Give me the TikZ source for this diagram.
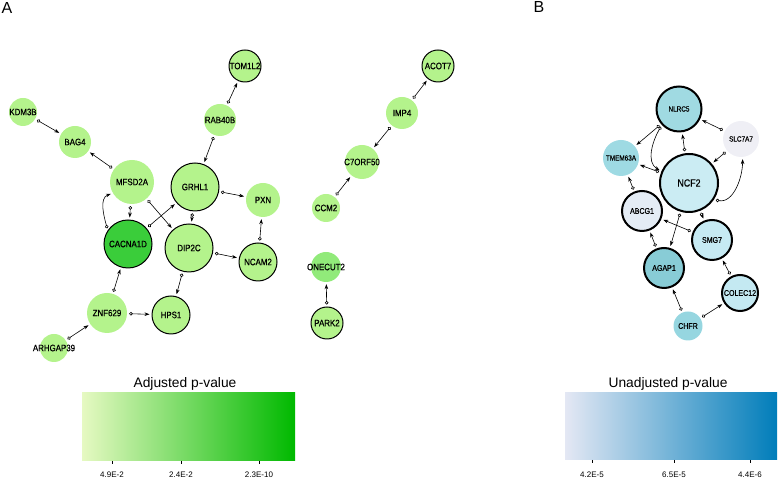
\documentclass[tikz,border=0pt]{standalone}
\usepackage{fontspec}
\setmainfont{Liberation Sans}
\newfontfamily\genefont{Liberation Sans}[FakeStretch=0.85,FakeBold=0.6]
\usetikzlibrary{arrows.meta,shapes}

% node fills
\definecolor{lgreen}{RGB}{180,243,140}
\definecolor{mgreen}{RGB}{145,234,122}
\definecolor{dgreen}{RGB}{58,205,58}
\definecolor{bnlrc}{RGB}{160,218,226}
\definecolor{btmem}{RGB}{158,218,227}
\definecolor{bncf}{RGB}{203,236,243}
\definecolor{babcg}{RGB}{228,236,245}
\definecolor{bsmg}{RGB}{198,234,243}
\definecolor{bagap}{RGB}{136,204,214}
\definecolor{bcolec}{RGB}{196,233,242}
\definecolor{bchfr}{RGB}{150,214,224}
\definecolor{bslc}{RGB}{239,239,245}
% colour bars
\definecolor{gbarlow}{RGB}{230,249,194}
\definecolor{gbarmid}{RGB}{145,245,138}
\definecolor{gbarhigh}{RGB}{0,185,0}
\definecolor{bbarlow}{RGB}{228,232,244}
\definecolor{bbarmid}{RGB}{160,222,244}
\definecolor{bbarhigh}{RGB}{0,125,186}

% label that does not widen its circle
\newcommand{\glab}[1]{\makebox[0pt]{#1}}

\begin{document}
\begin{tikzpicture}[
    x=1pt, y=1pt,
    gene/.style={circle, inner sep=0pt, text=black, font=\genefont\fontsize{9.3}{9.3}\selectfont},
    geneb/.style={gene, font=\genefont\fontsize{8.3}{8.3}\selectfont},
    genesmall/.style={gene, font=\genefont\fontsize{7.5}{7.5}\selectfont},
    ring/.style={draw=black, line width=1pt},
    ringthick/.style={draw=black, line width=2pt},
    link/.style={draw=black, line width=0.6pt,
        {Circle[open,length=3.5pt,width=3.5pt]}-{Stealth[length=5pt,width=3.6pt]},
        shorten <=2pt, shorten >=2pt},
    bartitle/.style={font=\fontsize{13.8}{13.8}\selectfont, anchor=base},
    ticklabel/.style={font=\fontsize{8}{8}\selectfont, anchor=base}
]
    \path[use as bounding box] (0,0) rectangle (778,481);

    % Panel letters
    \node[font=\fontsize{16}{16}\selectfont] (panelA) at (7,473) {A};
    \node[font=\fontsize{16}{16}\selectfont] (panelB) at (539,474) {B};

    % Network A
    \node[gene, fill=lgreen, minimum size=28pt] (kdm3b) at (23,369) {\glab{KDM3B}};
    \node[gene, fill=lgreen, minimum size=32pt] (bag4) at (75,339) {\glab{BAG4}};
    \node[gene, fill=lgreen, minimum size=44pt] (mfsd2a) at (132,299) {\glab{MFSD2A}};
    \node[gene, ring, fill=lgreen, minimum size=48pt] (grhl1) at (195,294) {\glab{GRHL1}};
    \node[gene, fill=lgreen, minimum size=32pt] (rab40b) at (220,361) {\glab{RAB40B}};
    \node[gene, ring, fill=lgreen, minimum size=32pt] (tom1l2) at (245,415) {\glab{TOM1L2}};
    \node[gene, fill=lgreen, minimum size=34pt] (pxn) at (263,281) {\glab{PXN}};
    \node[gene, ring, fill=dgreen, minimum size=48pt] (cacna1d) at (128,237) {\glab{CACNA1D}};
    \node[gene, ring, fill=lgreen, minimum size=48pt] (dip2c) at (189,233) {\glab{DIP2C}};
    \node[gene, ring, fill=lgreen, minimum size=38pt] (ncam2) at (258,219) {\glab{NCAM2}};
    \node[gene, ring, fill=lgreen, minimum size=38pt] (hps1) at (171,166) {\glab{HPS1}};
    \node[gene, fill=lgreen, minimum size=40pt] (znf629) at (107,168) {\glab{ZNF629}};
    \node[gene, fill=lgreen, minimum size=28pt] (arhgap39) at (54,133) {\glab{ARHGAP39}};
    \node[gene, ring, fill=lgreen, minimum size=32pt] (acot7) at (438,415) {\glab{ACOT7}};
    \node[gene, fill=lgreen, minimum size=32pt] (imp4) at (402,368) {\glab{IMP4}};
    \node[gene, fill=lgreen, minimum size=34pt] (c7orf50) at (362,319) {\glab{C7ORF50}};
    \node[gene, fill=lgreen, minimum size=28pt] (ccm2) at (326,273) {\glab{CCM2}};
    \node[gene, fill=mgreen, minimum size=30pt] (onecut2) at (326,214) {\glab{ONECUT2}};
    \node[gene, ring, fill=lgreen, minimum size=32pt] (park2) at (327,158) {\glab{PARK2}};

    \foreach \s/\t in {kdm3b/bag4, mfsd2a/bag4, rab40b/tom1l2, rab40b/grhl1,
        grhl1/pxn, grhl1/dip2c, mfsd2a/cacna1d, mfsd2a/dip2c, cacna1d/grhl1,
        dip2c/ncam2, dip2c/hps1, ncam2/pxn, znf629/cacna1d, znf629/hps1,
        arhgap39/znf629, imp4/acot7, imp4/c7orf50, ccm2/c7orf50, park2/onecut2}
        \draw[link] (\s) -- (\t);
    \draw[link] (cacna1d.146) to[out=105, in=200] (mfsd2a.210);

    % Network B
    \node[genesmall, ringthick, fill=bnlrc, minimum size=45pt] (nlrc5) at (679,372) {\glab{NLRC5}};
    \node[genesmall, fill=bslc, minimum size=36pt] (slc7a7) at (741,342) {\glab{SLC7A7}};
    \node[genesmall, fill=btmem, minimum size=36pt] (tmem63a) at (621,323) {\glab{TMEM63A}};
    \node[gene, ringthick, fill=bncf, minimum size=58pt, font=\genefont\fontsize{10.4}{10.4}\selectfont] (ncf2) at (689,298) {\glab{NCF2}};
    \node[geneb, ringthick, fill=babcg, minimum size=40pt] (abcg1) at (642,270) {\glab{ABCG1}};
    \node[geneb, ringthick, fill=bsmg, minimum size=40pt] (smg7) at (712,241) {\glab{SMG7}};
    \node[geneb, ringthick, fill=bagap, minimum size=40pt] (agap1) at (664,213) {\glab{AGAP1}};
    \node[geneb, ringthick, fill=bcolec, minimum size=36pt] (colec12) at (740,188) {\glab{COLEC12}};
    \node[geneb, fill=bchfr, minimum size=29pt] (chfr) at (688,155) {\glab{CHFR}};

    \foreach \s/\t in {slc7a7/nlrc5, slc7a7/ncf2, ncf2/nlrc5, nlrc5/tmem63a,
        ncf2/tmem63a, abcg1/tmem63a, ncf2/agap1, ncf2/smg7, smg7/abcg1,
        agap1/abcg1, colec12/smg7, chfr/agap1, chfr/colec12}
        \draw[link] (\s) -- (\t);
    \draw[link] (ncf2.326) to[out=-10, in=-90] (slc7a7.275);
    \draw[link] (nlrc5.223) to[out=240, in=150] (ncf2.157);

    % Colour bar A
    \node[bartitle] (titleA) at (185,93) {Adjusted p-value};
    \shade[left color=gbarlow, middle color=gbarmid, right color=gbarhigh] (82,20) rectangle (295,88);
    \foreach \x/\v in {112/4.9E-2, 181/2.4E-2, 259/2.3E-10} {
        \draw[line width=0.8pt] (\x,20) -- (\x,17);
        \node[ticklabel] (tickA\x) at (\x,3) {\v};
    }

    % Colour bar B
    \node[bartitle] (titleB) at (668,93) {Unadjusted p-value};
    \shade[left color=bbarlow, middle color=bbarmid, right color=bbarhigh] (565,21) rectangle (777,88);
    \foreach \x/\v in {592/4.2E-5, 674/6.5E-5, 750/4.4E-6} {
        \draw[line width=0.8pt] (\x,21) -- (\x,18);
        \node[ticklabel] (tickB\x) at (\x,3) {\v};
    }

\end{tikzpicture}
\end{document}
